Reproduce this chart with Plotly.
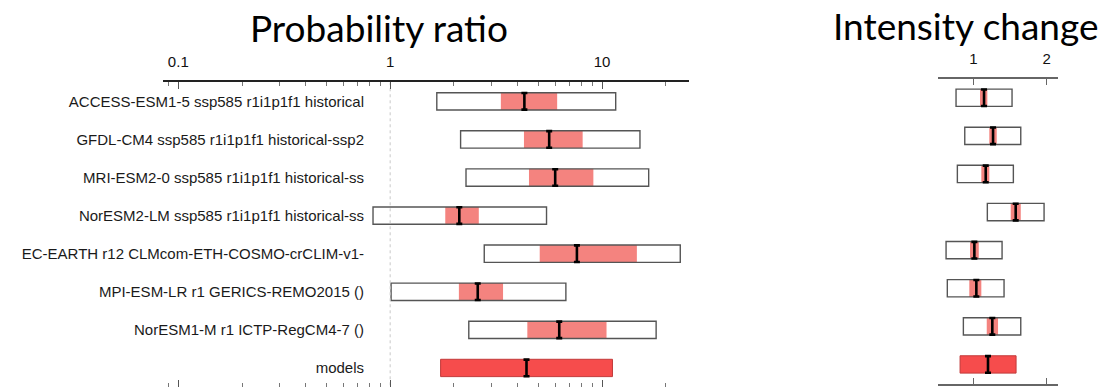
import plotly.graph_objects as go

# Rows, top to bottom
models = [
    "ACCESS-ESM1-5 ssp585 r1i1p1f1 historical",
    "GFDL-CM4 ssp585 r1i1p1f1 historical-ssp2",
    "MRI-ESM2-0 ssp585 r1i1p1f1 historical-ss",
    "NorESM2-LM ssp585 r1i1p1f1 historical-ss",
    "EC-EARTH r12 CLMcom-ETH-COSMO-crCLIM-v1-",
    "MPI-ESM-LR r1 GERICS-REMO2015 ()",
    "NorESM1-M r1 ICTP-RegCM4-7 ()",
    "models",
]

# Probability ratio: full uncertainty range, natural-variability range, best estimate
pr_low = [1.66, 2.15, 2.28, 0.83, 2.78, 1.01, 2.35, 1.73]
pr_high = [11.6, 15.1, 16.6, 5.47, 23.4, 6.75, 18.0, 11.2]
pr_nat_low = [3.33, 4.28, 4.52, 1.82, 5.08, 2.11, 4.44, None]
pr_nat_high = [6.14, 8.10, 9.10, 2.62, 14.6, 3.41, 10.5, None]
pr_best = [4.30, 5.63, 6.01, 2.12, 7.61, 2.59, 6.28, 4.40]

# Intensity change
ic_low = [0.764, 0.883, 0.782, 1.191, 0.628, 0.645, 0.864, 0.819]
ic_high = [1.528, 1.647, 1.546, 1.965, 1.392, 1.419, 1.647, 1.583]
ic_nat_low = [1.091, 1.218, 1.109, 1.510, 0.955, 0.945, 1.183, None]
ic_nat_high = [1.191, 1.319, 1.218, 1.647, 1.074, 1.109, 1.337, None]
ic_best = [1.146, 1.269, 1.169, 1.578, 1.014, 1.041, 1.259, 1.200]

pr_ticks = [0.1, 1, 10]
pr_ticktext = ["0.1", "1", "10"]
pr_minor = [m * d for d in (0.01, 0.1, 1, 10) for m in range(2, 10)]
ic_ticks = [1, 2]
NO_CHANGE = 1

W, H = 1107, 387
BOX = 0.455
PINK = "#f4837f"
RED = "#f64c4c"
rows = list(range(len(models)))
n_mod = len(models) - 1


def panel(fig, xa, ya, low, high, nlow, nhigh, best):
    r = rows[:n_mod]
    fig.add_trace(go.Bar(
        orientation="h", y=r, base=low[:n_mod],
        x=[h - l for l, h in zip(low[:n_mod], high[:n_mod])],
        width=BOX, marker=dict(color="white", line=dict(width=0)),
        xaxis=xa, yaxis=ya, showlegend=False, hoverinfo="skip"))
    fig.add_trace(go.Bar(
        orientation="h", y=r, base=nlow[:n_mod],
        x=[h - l for l, h in zip(nlow[:n_mod], nhigh[:n_mod])],
        width=BOX, marker=dict(color=PINK, line=dict(width=0)),
        xaxis=xa, yaxis=ya, showlegend=False, hoverinfo="skip"))
    fig.add_trace(go.Bar(
        orientation="h", y=r, base=low[:n_mod],
        x=[h - l for l, h in zip(low[:n_mod], high[:n_mod])],
        width=BOX, marker=dict(color="rgba(0,0,0,0)", line=dict(color="#555", width=1.4)),
        xaxis=xa, yaxis=ya, showlegend=False, hoverinfo="skip"))
    # synthesis row
    fig.add_trace(go.Bar(
        orientation="h", y=[rows[-1]], base=[low[-1]], x=[high[-1] - low[-1]],
        width=BOX, marker=dict(color=RED, line=dict(color="#c23a3a", width=1)),
        xaxis=xa, yaxis=ya, showlegend=False, hoverinfo="skip"))
    # best estimates
    fig.add_trace(go.Scatter(
        x=best, y=rows, mode="markers",
        marker=dict(size=1, color="black"),
        error_y=dict(type="constant", value=BOX / 2 - 0.01, color="black",
                     thickness=2.6, width=3),
        xaxis=xa, yaxis=ya, showlegend=False, hoverinfo="skip"))


fig = go.Figure()

fig.add_trace(go.Scatter(
    x=[NO_CHANGE, NO_CHANGE], y=[-0.5, 7.5], mode="lines",
    line=dict(color="#c8c8c8", width=1, dash="dot"),
    xaxis="x", yaxis="y", showlegend=False, hoverinfo="skip"))

panel(fig, "x", "y", pr_low, pr_high, pr_nat_low, pr_nat_high, pr_best)
panel(fig, "x2", "y2", ic_low, ic_high, ic_nat_low, ic_nat_high, ic_best)

# invisible carriers for the bottom tick axes
fig.add_trace(go.Scatter(x=[1], y=[0], xaxis="x3", yaxis="y", mode="markers",
                         marker=dict(opacity=0), showlegend=False, hoverinfo="skip"))
fig.add_trace(go.Scatter(x=[1], y=[0], xaxis="x4", yaxis="y2", mode="markers",
                         marker=dict(opacity=0), showlegend=False, hoverinfo="skip"))

tick_font = dict(family="Liberation Sans, Arial, sans-serif", size=15, color="#111")
label_font = dict(family="Liberation Sans, Arial, sans-serif", size=15, color="#1a1a1a")
title_font = dict(family="Lato, sans-serif", size=37, color="black")
pr_range = [-1.0736, 1.409]
ic_range = [0.522, 2.151]
left_dom = [162.7 / W, 688.7 / W]
right_dom = [938.3 / W, 1057.7 / W]

fig.update_layout(
    width=W, height=H,
    margin=dict(l=0, r=0, t=0, b=0),
    paper_bgcolor="white", plot_bgcolor="rgba(0,0,0,0)",
    barmode="overlay",
    xaxis=dict(type="log", domain=left_dom, range=pr_range, side="top", anchor="y",
               showline=True, linecolor="#222", linewidth=2,
               tickvals=pr_ticks, ticktext=pr_ticktext, ticks="inside", ticklen=7,
               tickcolor="#555", tickwidth=1, ticklabelstandoff=7,
               minor=dict(tickvals=pr_minor, ticks="inside", ticklen=4,
                          tickcolor="#777", tickwidth=1),
               showgrid=False, zeroline=False, tickfont=tick_font),
    xaxis3=dict(type="log", domain=left_dom, range=pr_range, side="bottom",
                anchor="y", overlaying="x", showline=False,
                tickvals=pr_ticks, ticktext=["", "", ""], ticks="inside", ticklen=7,
                tickcolor="#555", tickwidth=1,
                minor=dict(tickvals=pr_minor, ticks="inside", ticklen=4,
                           tickcolor="#777", tickwidth=1),
                showgrid=False, zeroline=False),
    yaxis=dict(domain=[0, 1 - 82.3 / H], range=[7.5, -0.5], anchor="free",
               position=364 / W, tickvals=rows, ticktext=models, ticks="",
               showline=False, showgrid=False, zeroline=False, tickfont=label_font),
    xaxis2=dict(domain=right_dom, range=ic_range, side="top", anchor="y2",
                showline=True, linecolor="#666", linewidth=2,
                tickvals=ic_ticks, ticks="inside", ticklen=6, tickcolor="#666",
                ticklabelstandoff=7,
                showgrid=False, zeroline=False, tickfont=tick_font),
    xaxis4=dict(domain=right_dom, range=ic_range, side="bottom", anchor="y2",
                overlaying="x2", showline=True, linecolor="#666", linewidth=2,
                tickvals=ic_ticks, ticktext=["", ""], ticks="inside", ticklen=6,
                tickcolor="#666", showgrid=False, zeroline=False),
    yaxis2=dict(domain=[1 - 383.5 / H, 1 - 78.7 / H], range=[7.5, -0.5],
                anchor="x2", showticklabels=False, ticks="", showline=False,
                showgrid=False, zeroline=False),
    annotations=[
        dict(text="Probability ratio", x=378.5 / W, y=1 - 27 / H, xref="paper",
             yref="paper", showarrow=False, xanchor="center", yanchor="middle",
             font=title_font),
        dict(text="Intensity change", x=965.5 / W, y=1 - 25.5 / H, xref="paper",
             yref="paper", showarrow=False, xanchor="center", yanchor="middle",
             font=title_font),
    ],
)

fig.write_html("out.html")
